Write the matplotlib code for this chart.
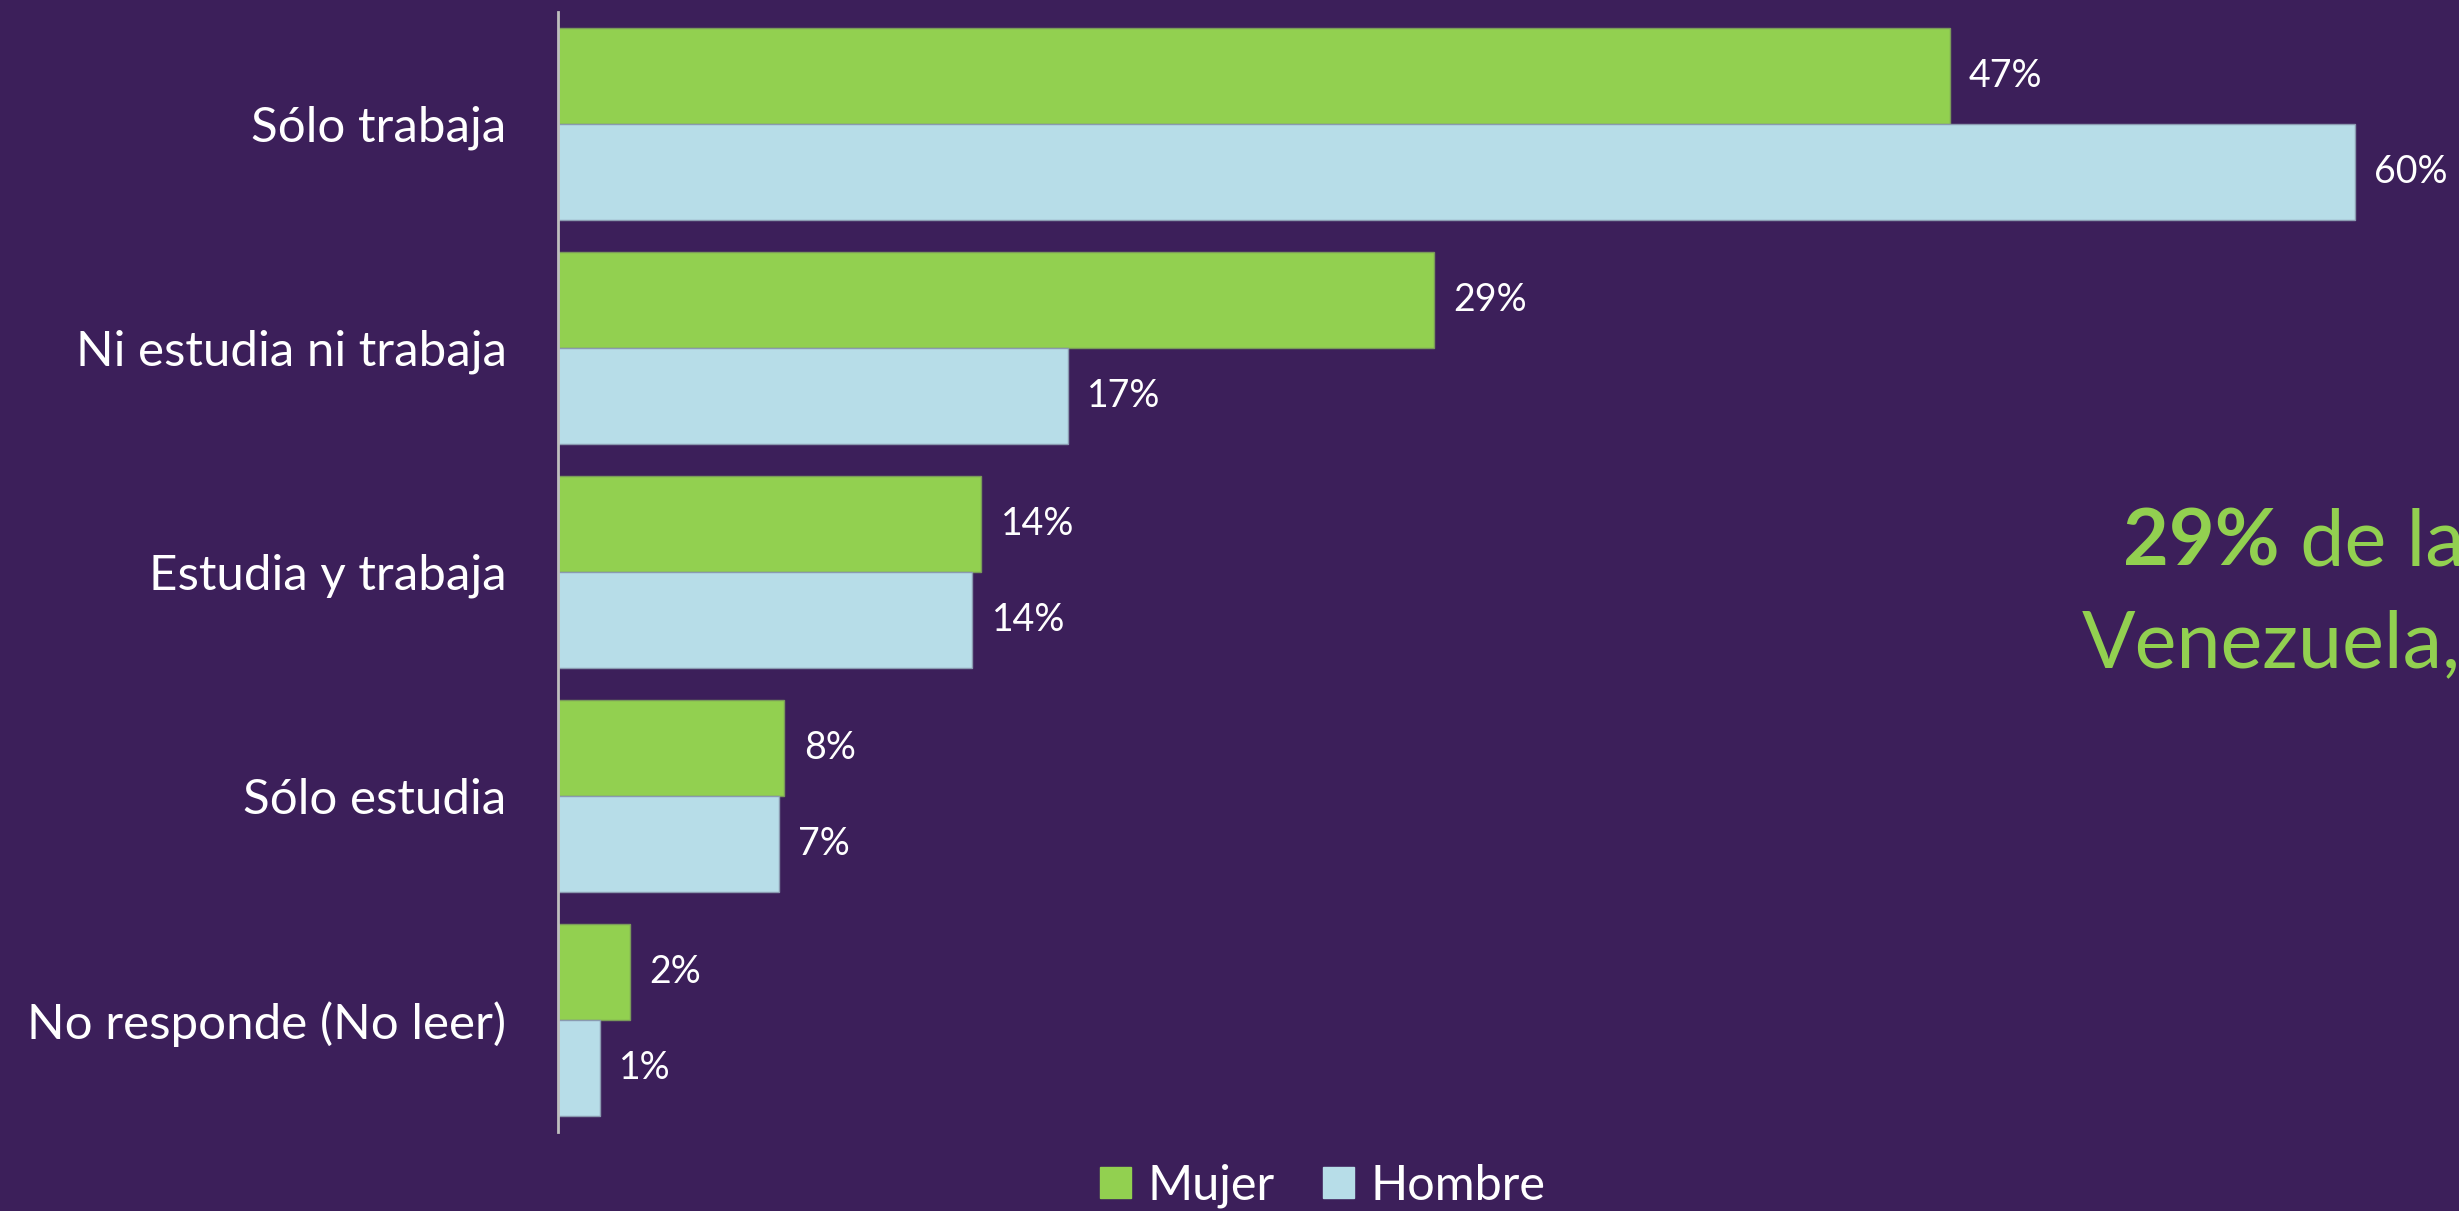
import numpy as np
import matplotlib.pyplot as plt
from matplotlib.patches import Patch

# datos
categorias = ["Sólo trabaja", "Ni estudia ni trabaja", "Estudia y trabaja",
              "Sólo estudia", "No responde (No leer)"]
mujer = [46.7, 29.4, 14.2, 7.6, 2.4]
hombre = [60.3, 17.1, 13.9, 7.4, 1.4]
series = ["Mujer", "Hombre"]

fondo = "#3C1F5A"
verde = "#92D050"
azul = "#B7DDE8"

plt.rcParams['font.family'] = ['Lato', 'DejaVu Sans']

fig = plt.figure(figsize=(24.59, 12.11), dpi=100, facecolor=fondo)
ax = fig.add_axes([558/2459, 1 - 1132/1211, 1 - 558/2459, 1120/1211])
ax.set_facecolor(fondo)

y = np.arange(len(categorias))
h = 0.43

b1 = ax.barh(y - h/2, mujer, height=h, color=verde, edgecolor="#7A9A5A", linewidth=1)
b2 = ax.barh(y + h/2, hombre, height=h, color=azul, edgecolor="#8A9AB0", linewidth=1)

# etiquetas de valor
for bars, vals in [(b1, mujer), (b2, hombre)]:
    for rect, v in zip(bars, vals):
        ax.annotate(f"{v:.0f}%", xy=(rect.get_width(), rect.get_y() + rect.get_height()/2),
                    xytext=(14, 0), textcoords="offset points",
                    ha="left", va="center", color="white", fontsize=27)

ax.set_xlim(0, (2459 - 558) / 29.8)
ax.set_ylim(4.5, -0.5)
ax.set_yticks(y)
ax.set_yticklabels(categorias, color="white", fontsize=35.5)
ax.tick_params(axis="y", length=0, pad=37)
ax.set_xticks([])

for s in ["top", "right", "bottom"]:
    ax.spines[s].set_visible(False)
ax.spines["left"].set_color("#BFBFBF")
ax.spines["left"].set_linewidth(2)

# leyenda
handles = [Patch(facecolor=verde, edgecolor=verde), Patch(facecolor=azul, edgecolor=azul)]
fig.legend(handles, series, loc="center", bbox_to_anchor=(1323/2459, 1 - 1186/1211),
           ncol=2, frameon=False, fontsize=35, labelcolor="white",
           handlelength=0.62, handleheight=0.62, handletextpad=0.35, columnspacing=1.0)

# texto de la derecha (cortado por el borde, como en el original)
t = fig.text(2123/2459, 1 - 565/1211, "29%", color=verde, fontsize=57,
             fontweight="bold", ha="left", va="baseline")
ax.annotate(" de la", xy=(1, 0), xycoords=t, ha="left", va="bottom",
            color=verde, fontsize=57, annotation_clip=False)
fig.text(2082/2459, 1 - 667/1211, "Venezuela,", color=verde, fontsize=57,
         ha="left", va="baseline")

plt.savefig("out.png", dpi=100, facecolor=fondo)
